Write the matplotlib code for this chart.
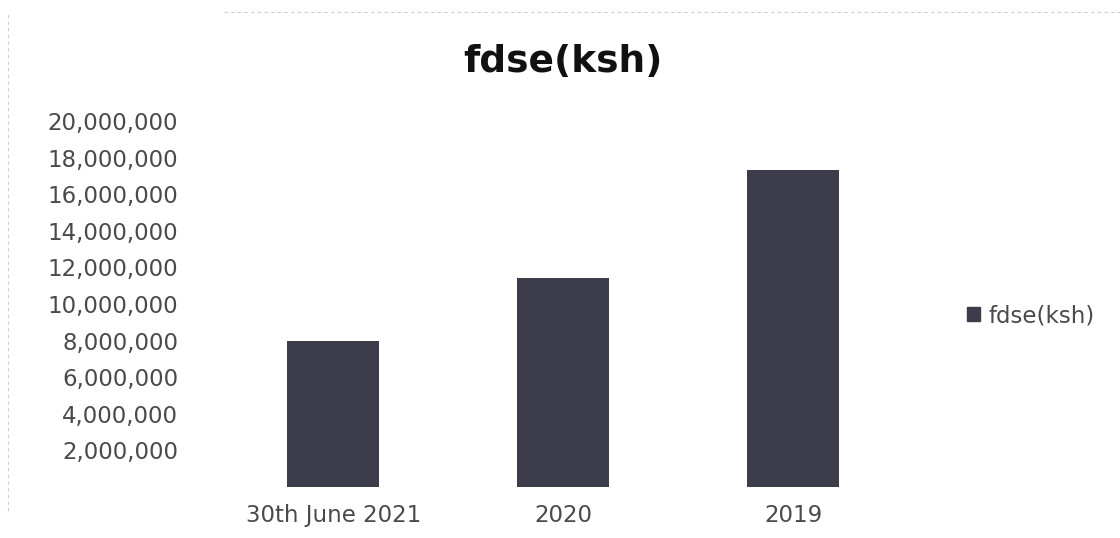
import matplotlib
matplotlib.use("Agg")
import matplotlib.pyplot as plt
from matplotlib.ticker import FuncFormatter
from matplotlib.patches import Patch
from matplotlib.lines import Line2D

categories = ["30th June 2021", "2020", "2019"]
values = [8_000_000, 11_420_000, 17_320_000]
series_name = "fdse(ksh)"
y_ticks = [2_000_000, 4_000_000, 6_000_000, 8_000_000, 10_000_000,
           12_000_000, 14_000_000, 16_000_000, 18_000_000, 20_000_000]

bar_color = "#3c3c4a"
text_color = "#4a4a4a"

fig = plt.figure(figsize=(11.2, 5.38), dpi=100)
ax = fig.add_axes([0.195, 0.095, 0.616, 0.68])

x = range(len(categories))
ax.bar(x, values, width=0.4, color=bar_color, label=series_name)

ax.set_xlim(-0.5, len(categories) - 0.5)
ax.set_ylim(0, 20_000_000)
ax.set_xticks(list(x))
ax.set_xticklabels(categories)
ax.set_yticks(y_ticks)
ax.yaxis.set_major_formatter(FuncFormatter(lambda v, _: f"{int(v):,}"))

for s in ax.spines.values():
    s.set_visible(False)
ax.tick_params(axis="both", length=0, labelsize=16.5, colors=text_color)
ax.tick_params(axis="y", pad=29)
ax.tick_params(axis="x", pad=12)

fig.text(0.503, 0.885, "fdse(ksh)", ha="center", va="center",
         fontsize=27, fontweight="bold", color="#111111")

handle = Patch(facecolor=bar_color, edgecolor=bar_color)
fig.legend([handle], [series_name], loc="center left",
           bbox_to_anchor=(0.845, 0.413), frameon=False, fontsize=16.5,
           handlelength=0.55, handleheight=0.55, handletextpad=0.4,
           labelcolor=text_color)

# faint outer frame of the chart area
fig.add_artist(Line2D([0.2, 1.0], [0.978, 0.978], transform=fig.transFigure,
                      color="#cccccc", lw=0.8, ls=(0, (3, 3))))
fig.add_artist(Line2D([0.007, 0.007], [0.05, 0.98], transform=fig.transFigure,
                      color="#d0d0d0", lw=0.8, ls=(0, (3, 3))))

fig.savefig("out.png", dpi=100, facecolor="white")
